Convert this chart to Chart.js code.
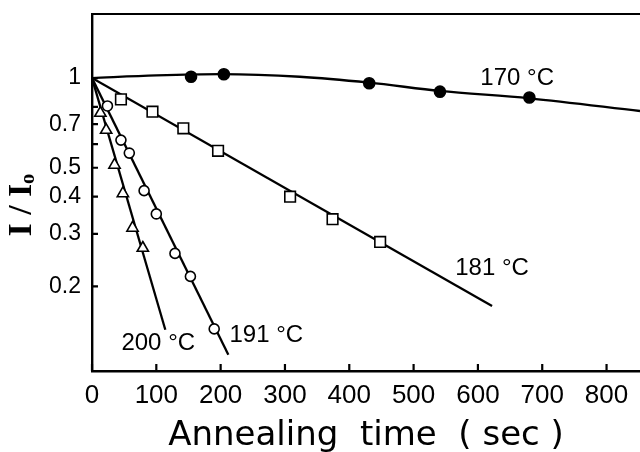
<!DOCTYPE html>
<html>
<head>
<meta charset="utf-8">
<script src="https://cdn.jsdelivr.net/npm/chart.js@4.4.0/dist/chart.umd.min.js"></script>
<style>
  html, body { margin: 0; padding: 0; background: #fff; }
  #wrap { width: 640px; height: 452px; }
</style>
</head>
<body>
<div id="wrap"><canvas id="chart" width="640" height="452"></canvas></div>
<script>
// measured points (annealing time in sec, I/Io)
var t170 = [154, 205, 431, 541, 680];
var v170 = [1.01, 1.03, 0.96, 0.90, 0.86];
var t181 = [45, 94, 142, 196, 308, 374, 448];
var v181 = [0.848, 0.771, 0.678, 0.570, 0.400, 0.336, 0.282];
var t191 = [24, 45, 58, 81, 100, 129, 153, 190];
var v191 = [0.806, 0.619, 0.560, 0.419, 0.350, 0.258, 0.216, 0.144];
var t200 = [13, 22, 35, 48, 63, 79];
var v200 = [0.763, 0.669, 0.511, 0.410, 0.314, 0.269];

// fitted lines
var fit170T = [0, 100, 200, 323, 431, 541, 680, 852];
var fit170V = [1.0, 1.02, 1.03, 1.01, 0.965, 0.905, 0.855, 0.775];
var fit181T = [0, 622];
var fit181V = [1.0, 0.172];
var fit191T = [0, 212];
var fit191V = [1.0, 0.118];
var fit200T = [0, 114];
var fit200V = [1.0, 0.143];

var xTicks = [0, 100, 200, 300, 400, 500, 600, 700, 800];
var yTicks = [0.2, 0.3, 0.4, 0.5, 0.6, 0.7, 0.8, 1];
var yLabels = [0.2, 0.3, 0.4, 0.5, 0.7, 1];

var notes = [
  { text: '170 °C', x: 661, y: 1.0 },
  { text: '181 °C', x: 622, y: 0.23 },
  { text: '191 °C', x: 271, y: 0.137 },
  { text: '200 °C', x: 103, y: 0.129 }
];

function pts(ts, vs) {
  return ts.map(function (t, i) { return { x: t, y: vs[i] }; });
}

function markers(ts, vs, style, radius, fill) {
  return {
    data: pts(ts, vs),
    showLine: false,
    pointStyle: style,
    pointRadius: radius,
    pointBackgroundColor: fill,
    pointBorderColor: '#000',
    pointBorderWidth: 1.6
  };
}

function fitLine(ts, vs, tension) {
  return {
    data: pts(ts, vs),
    borderColor: '#000',
    borderWidth: 2.3,
    pointRadius: 0,
    tension: tension,
    cubicInterpolationMode: tension ? 'monotone' : 'default'
  };
}

const frameAndNotes = {
  id: 'frameAndNotes',
  afterDraw(chart) {
    const ctx = chart.ctx;
    const a = chart.chartArea;
    const x = chart.scales.x, y = chart.scales.y;
    ctx.save();
    ctx.strokeStyle = '#000';
    ctx.lineWidth = 2.2;
    ctx.beginPath();
    ctx.moveTo(a.left, a.top);
    ctx.lineTo(a.right, a.top);
    xTicks.forEach(function (v) {
      var px = x.getPixelForValue(v);
      ctx.moveTo(px, a.bottom);
      ctx.lineTo(px, a.bottom - 7);
    });
    yTicks.forEach(function (v) {
      var py = y.getPixelForValue(v);
      ctx.moveTo(a.left, py);
      ctx.lineTo(a.left + 6, py);
    });
    ctx.stroke();
    ctx.fillStyle = '#000';
    ctx.font = '24px "Liberation Sans"';
    ctx.textAlign = 'center';
    ctx.textBaseline = 'middle';
    notes.forEach(function (n) {
      ctx.fillText(n.text, x.getPixelForValue(n.x), y.getPixelForValue(n.y));
    });
    ctx.restore();
  }
};

new Chart(document.getElementById('chart'), {
  type: 'line',
  data: {
    datasets: [
      markers(t170, v170, 'circle', 5.5, '#000'),
      markers(t181, v181, 'rect', 7.5, '#fff'),
      markers(t191, v191, 'circle', 5, '#fff'),
      markers(t200, v200, 'triangle', 6.5, '#fff'),
      fitLine(fit170T, fit170V, 0.4),
      fitLine(fit181T, fit181V, 0),
      fitLine(fit191T, fit191V, 0),
      fitLine(fit200T, fit200V, 0)
    ]
  },
  options: {
    responsive: false,
    animation: false,
    devicePixelRatio: 1,
    layout: { autoPadding: false, padding: { top: 14, right: 0, left: 0, bottom: 0 } },
    plugins: { legend: { display: false }, tooltip: { enabled: false } },
    scales: {
      x: {
        type: 'linear',
        min: 0,
        max: 852,
        afterBuildTicks: function (s) { s.ticks = xTicks.map(function (v) { return { value: v }; }); },
        afterFit: function (s) { s.height = 81; s.paddingLeft = 0; s.paddingRight = 0; },
        grid: { display: true, drawOnChartArea: false, drawTicks: false },
        border: { display: true, color: '#000', width: 2.4 },
        ticks: {
          color: '#000',
          padding: 9,
          maxRotation: 0,
          autoSkip: false,
          font: { family: 'Liberation Sans', size: 26 }
        },
        title: {
          display: true,
          text: 'Annealing  time  ( sec )',
          color: '#000',
          font: { family: 'DejaVu Sans', size: 34 },
          padding: { top: 0, bottom: -5 }
        }
      },
      y: {
        type: 'logarithmic',
        min: 0.104,
        max: 1.64,
        afterBuildTicks: function (s) { s.ticks = yTicks.map(function (v) { return { value: v }; }); },
        afterFit: function (s) { s.width = 92; s.paddingTop = 0; s.paddingBottom = 0; },
        grid: { display: true, drawOnChartArea: false, drawTicks: false },
        border: { display: true, color: '#000', width: 2.4 },
        ticks: {
          color: '#000',
          padding: 11,
          autoSkip: false,
          font: { family: 'Liberation Sans', size: 23 },
          callback: function (v) { return yLabels.indexOf(v) >= 0 ? String(v) : ''; }
        },
        title: {
          display: true,
          text: 'I / Iₒ   ',
          color: '#000',
          font: { family: 'Liberation Serif', size: 34, weight: 'bold' },
          padding: { top: 2, bottom: 0 }
        }
      }
    }
  },
  plugins: [frameAndNotes]
});
</script>
</body>
</html>
